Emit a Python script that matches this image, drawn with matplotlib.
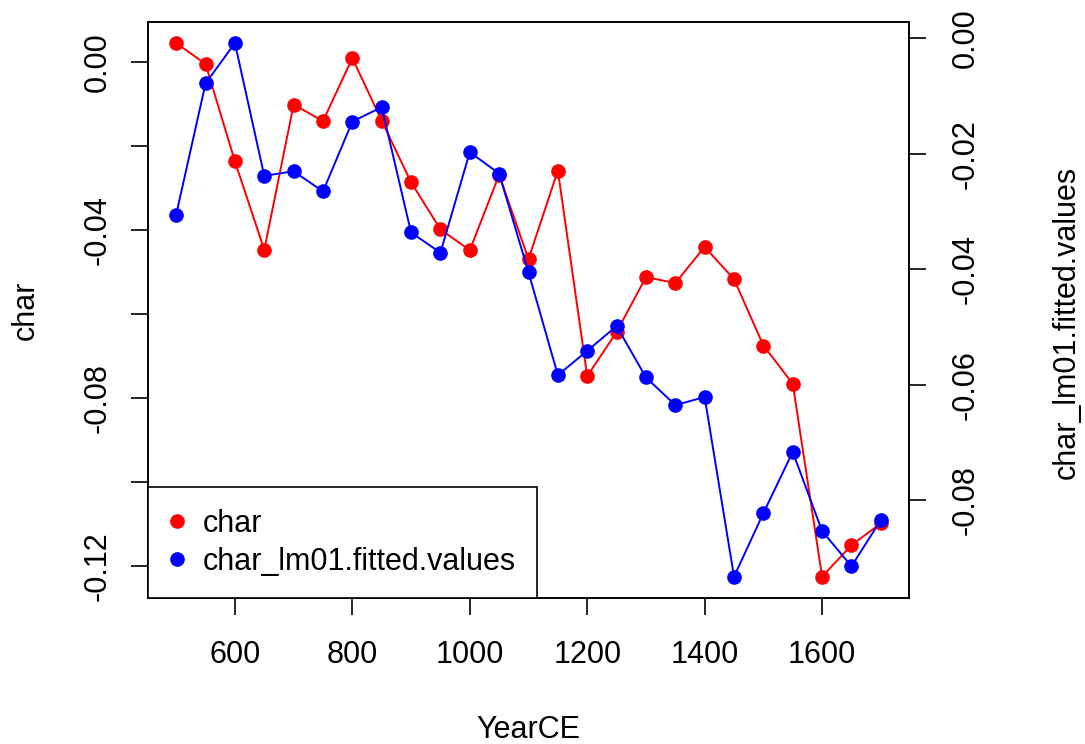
import numpy as np, matplotlib; matplotlib.use("Agg")
import matplotlib.pyplot as plt
from matplotlib.lines import Line2D

plt.rcParams["font.family"] = ["Liberation Sans", "DejaVu Sans"]
plt.rcParams["axes.unicode_minus"] = False

# values
year = [500, 550, 600, 650, 700, 750, 800, 850, 900, 950, 1000, 1050, 1100,
        1150, 1200, 1250, 1300, 1350, 1400, 1450, 1500, 1550, 1600, 1650, 1700]
char = [0.0046, -0.0004, -0.0236, -0.0447, -0.0101, -0.0140, 0.0010, -0.0139,
        -0.0286, -0.0398, -0.0448, -0.0268, -0.0469, -0.0258, -0.0748, -0.0643,
        -0.0512, -0.0526, -0.0440, -0.0517, -0.0675, -0.0766, -0.1226, -0.1151, -0.1099]
fitted = [-0.0305, -0.0078, -0.0008, -0.0238, -0.0230, -0.0265, -0.0144, -0.0119,
          -0.0336, -0.0371, -0.0197, -0.0234, -0.0405, -0.0583, -0.0541, -0.0498,
          -0.0587, -0.0635, -0.0621, -0.0932, -0.0822, -0.0716, -0.0853, -0.0914, -0.0834]
xticks = [600, 800, 1000, 1200, 1400, 1600]
lticks = [0.00, -0.02, -0.04, -0.06, -0.08, -0.10, -0.12]
lticklabels = ["0.00", "", "-0.04", "", "-0.08", "", "-0.12"]
rticks = [0.00, -0.02, -0.04, -0.06, -0.08]

W, H = 1085, 744
FS = 22

def rlim(v):
    lo, hi = min(v), max(v); p = 0.04 * (hi - lo)
    return lo - p, hi + p

fig = plt.figure(figsize=(W/100, H/100), dpi=100)
ax = fig.add_axes([148/W, 1-598/H, (909-148)/W, (598-21.7)/H])
ax2 = ax.twinx()

ax.plot(year, char, "-o", color="red", lw=1.4, ms=9.5)
ax2.plot(year, fitted, "-o", color="blue", lw=1.4, ms=9.5)

ax.set_xlim(*rlim(year)); ax.set_ylim(*rlim(char)); ax2.set_ylim(*rlim(fitted))
ax.set_xticks(xticks); ax.set_xticklabels([str(t) for t in xticks])
ax.set_yticks(lticks); ax.set_yticklabels(lticklabels)
ax2.set_yticks(rticks); ax2.set_yticklabels([f"{t:.2f}" for t in rticks])

for a in (ax, ax2):
    for s in a.spines.values(): s.set_linewidth(1.2)
ax.tick_params(axis="x", length=12.5, width=1.2, labelsize=FS, pad=18)
ax.tick_params(axis="y", length=12.5, width=1.2, labelsize=FS, pad=13)
ax2.tick_params(axis="y", length=12.5, width=1.2, labelsize=FS, pad=17.3)
plt.setp(ax.get_yticklabels(), rotation=90, va="center")
plt.setp(ax2.get_yticklabels(), rotation=90, va="center")

handles = [Line2D([], [], ls="none", marker="o", color="red", ms=9.5),
           Line2D([], [], ls="none", marker="o", color="blue", ms=9.5)]
leg = ax2.legend(handles, ["char", "char_lm01.fitted.values"], loc="lower left",
                 bbox_to_anchor=(0, 0), borderaxespad=0, fontsize=FS, fancybox=False,
                 edgecolor="black", framealpha=1, handlelength=0.5, handletextpad=0.58,
                 borderpad=0.7, labelspacing=0.26)
leg.get_frame().set_linewidth(1.2)

fig.text(528.5/W, 1-738/H, "YearCE", ha="center", va="baseline", fontsize=FS)
fig.text(34/W, 1-310/H, "char", rotation=90, rotation_mode="anchor",
         ha="center", va="baseline", fontsize=FS)
fig.text(1075/W, 1-322/H, "char_lm01.fitted.values", rotation=90, rotation_mode="anchor",
         ha="center", va="baseline", fontsize=FS)

fig.savefig("out.png", dpi=100)
